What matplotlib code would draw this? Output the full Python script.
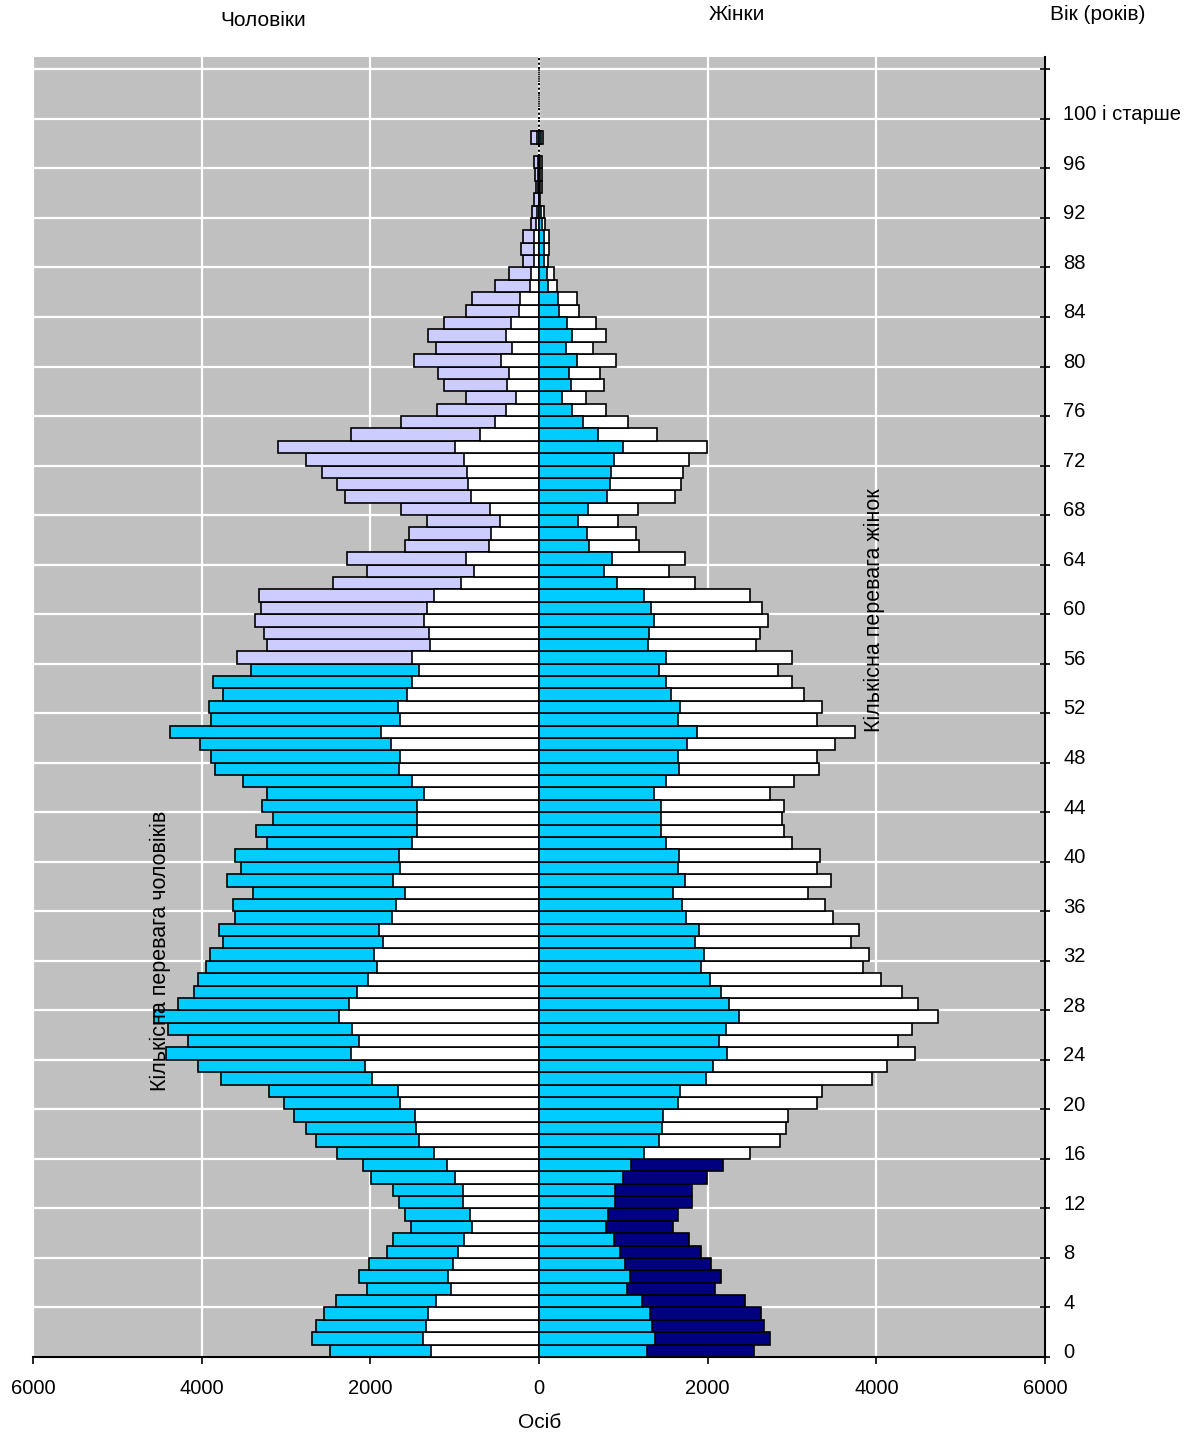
import numpy as np
import matplotlib
matplotlib.use("Agg")
import matplotlib.pyplot as plt

plt.rcParams['font.family'] = ['Liberation Sans', 'DejaVu Sans']

# вік 0..104 (останні - нулі)
ages = np.arange(0, 105)

males = np.array([
    2477, 2690, 2643, 2548, 2410, 2034, 2129, 2011, 1797, 1726,
    1517, 1588, 1659, 1726, 1991, 2082, 2390, 2647, 2761, 2903,
    3022, 3207, 3768, 4049, 4420, 4167, 4404, 4562, 4286, 4096,
    4049, 3954, 3907, 3745, 3792, 3602, 3626, 3393, 3697, 3535,
    3602, 3231, 3350, 3160, 3279, 3231, 3512, 3839, 3887, 4025,
    4381, 3887, 3911, 3745, 3863, 3417, 3583, 3231, 3255, 3369,
    3302, 3326, 2437, 2034, 2271, 1588, 1541, 1331, 1639, 2295,
    2390, 2575, 2761, 3089, 2228, 1639, 1213, 865, 1126, 1193,
    1477, 1221, 1311, 1126, 869, 798, 521, 352, 194, 217,
    186, 99, 80, 55, 35, 47, 55, 0, 99, 0,
    0, 0, 0, 0, 0])

females = np.array([
    2552, 2745, 2670, 2627, 2441, 2086, 2157, 2038, 1920, 1781,
    1592, 1643, 1809, 1809, 1995, 2176, 2500, 2856, 2923, 2947,
    3302, 3350, 3954, 4124, 4456, 4262, 4428, 4736, 4495, 4309,
    4053, 3839, 3914, 3701, 3796, 3492, 3397, 3184, 3468, 3298,
    3330, 3002, 2903, 2884, 2903, 2737, 3022, 3326, 3298, 3512,
    3745, 3298, 3354, 3140, 3002, 2836, 3002, 2579, 2619, 2718,
    2647, 2500, 1849, 1541, 1730, 1189, 1149, 932, 1169, 1612,
    1683, 1702, 1778, 1987, 1402, 1055, 794, 557, 770, 723,
    912, 644, 794, 675, 474, 446, 209, 182, 110, 118,
    118, 71, 55, 10, 32, 35, 30, 0, 51, 0,
    0, 0, 0, 0, 0])

label_ages = list(range(0, 101, 4))
age_labels = [str(a) for a in label_ages[:-1]] + ['100 і старше']
x_ticks = list(range(-6000, 6001, 2000))

CYAN = '#00CCFF'
LAV = '#CCCCFF'
NAVY = '#000080'
GRAY = '#C0C0C0'

fig = plt.figure(figsize=(12.04, 14.35), dpi=100)
ax = fig.add_axes([33 / 1204, 78 / 1435, 1012 / 1204, 1300 / 1435])
ax.set_facecolor(GRAY)

nz = (males > 0) | (females > 0)
a = ages[nz]
m = males[nz]
f = females[nz]
half = f / 2.0

left_colors = [CYAN if x < 56 else LAV for x in a]
right_colors = [NAVY if x < 16 else 'white' for x in a]

kw = dict(height=1.0, edgecolor='black', linewidth=1.2)
ax.barh(a, -m, color=left_colors, zorder=2, **kw)
ax.barh(a, -half, color='white', zorder=3, **kw)
ax.barh(a, f, color=right_colors, zorder=2, **kw)
ax.barh(a, half, color=CYAN, zorder=3, **kw)
# нульові вікові групи - пунктир
ax.barh(ages[~nz], 0, height=1.0, color='none', edgecolor='black',
        linewidth=1.2, linestyle=':', zorder=3)

ax.set_xlim(-6000, 6000)
ax.set_ylim(-0.5, 104.5)

ax.set_xticks(x_ticks)
ax.set_xticklabels([str(abs(v)) for v in x_ticks], fontsize=14.5)
ax.tick_params(axis='x', direction='out', length=5, width=1.2, pad=11)

ax.yaxis.tick_right()
ax.set_yticks(np.arange(-0.5, 104, 4))
ax.set_yticklabels([])
ax.set_yticks(label_ages, minor=True)
ax.set_yticklabels(age_labels, minor=True, fontsize=14.5)
ax.tick_params(axis='y', which='major', direction='inout', length=7, width=1.2)
ax.tick_params(axis='y', which='minor', length=0, pad=13)

ax.grid(True, which='major', color='white', linewidth=1.6)
ax.set_axisbelow(True)

for s in ('top', 'left'):
    ax.spines[s].set_visible(False)
for s in ('right', 'bottom'):
    ax.spines[s].set_linewidth(1.5)

ax.text(-4490, 32.3, 'Кількісна перевага чоловіків', rotation=90,
        ha='center', va='center', fontsize=15.5, zorder=5)
ax.text(3980, 59.8, 'Кількісна перевага жінок', rotation=90,
        ha='center', va='center', fontsize=15.5, zorder=5)

fig.text(263 / 1204, 1 - 21 / 1435, 'Чоловіки', ha='center', va='center', fontsize=15)
fig.text(737 / 1204, 1 - 14 / 1435, 'Жінки', ha='center', va='center', fontsize=15)
fig.text(1098 / 1204, 1 - 14 / 1435, 'Вік (років)', ha='center', va='center', fontsize=15)
fig.text(540 / 1204, 1 - 1423 / 1435, 'Осіб', ha='center', va='center', fontsize=15)

fig.savefig('out.png', dpi=100)
